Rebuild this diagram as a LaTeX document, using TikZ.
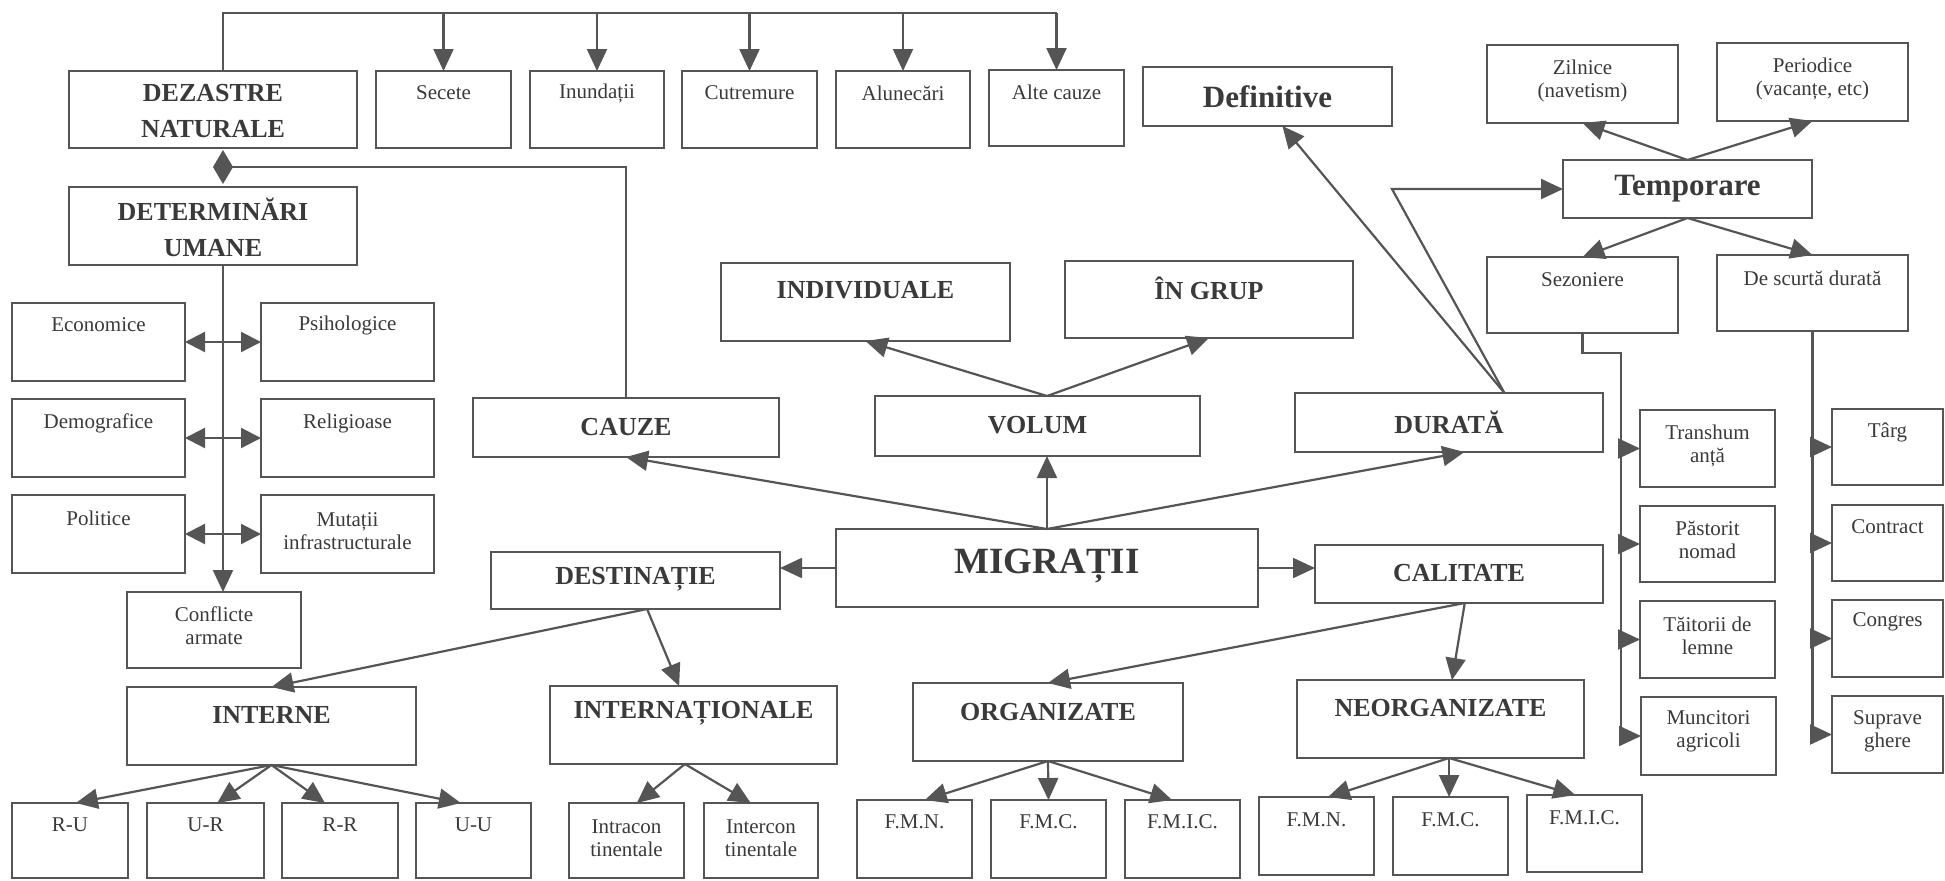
\documentclass[tikz,border=0pt]{standalone}
\usepackage{fontspec}
\setmainfont{Liberation Serif}
\usetikzlibrary{arrows.meta,calc}
\definecolor{ln}{HTML}{555555}
\definecolor{tx}{HTML}{3A3A3A}
\tikzset{
 boxst/.style={draw=ln, line width=1.2pt, inner sep=0pt, outer sep=0pt},
 conn/.style={draw=ln, line width=1.1pt},
 arr/.style={conn, -{Triangle[length=11pt,width=10pt]}},
 arrtwo/.style={conn, {Triangle[length=10pt,width=10pt]}-{Triangle[length=10pt,width=10pt]}},
 rt/.style={text=tx, font=\fontsize{10.5}{11.5}\selectfont, align=center, inner sep=0pt},
 bt/.style={text=tx, font=\fontsize{13}{15}\selectfont\bfseries, align=center, inner sep=0pt},
 big/.style={text=tx, font=\fontsize{15.5}{17}\selectfont\bfseries, align=center, inner sep=0pt},
 huge/.style={text=tx, font=\fontsize{18.5}{20}\selectfont\bfseries, align=center, inner sep=0pt},
}
\newcommand\boxt[8]{%
 \pgfmathsetmacro\bw{(#4-#2)*0.5}%
 \pgfmathsetmacro\bh{(#5-#3)*0.5}%
 \pgfmathsetmacro\bcx{(#2+#4)/2}%
 \pgfmathsetmacro\bcy{(#3+#5)/2}%
 \node[boxst, minimum width=\bw pt, minimum height=\bh pt] (#1) at (\bcx,\bcy) {};%
 \node[#7] (t#1) at (\bcx,#6) {#8};}
\begin{document}
\begin{tikzpicture}[x=0.5pt,y=-0.5pt]
\useasboundingbox[fill=white] (0,0) rectangle (1945,880);
% top row
\boxt{dez}{69}{71}{357}{148}{111}{bt}{DEZASTRE\\[3pt]NATURALE}
\boxt{sec}{376}{71}{511}{148}{93}{rt}{Secete}
\boxt{inu}{530}{71}{664}{148}{93}{rt}{Inundații}
\boxt{cut}{682}{71}{817}{148}{93}{rt}{Cutremure}
\boxt{alu}{836}{71}{970}{148}{93}{rt}{Alunecări}
\boxt{alt}{989}{70}{1124}{146}{92}{rt}{Alte cauze}
\boxt{def}{1143}{67}{1392}{126}{97}{big}{Definitive}
\boxt{zil}{1487}{45}{1678}{123}{81}{rt}{Zilnice\\(navetism)}
\boxt{per}{1717}{43}{1908}{121}{79}{rt}{Periodice\\(vacanțe, etc)}
\boxt{tem}{1563}{160}{1812}{218}{189}{big}{Temporare}
\boxt{sez}{1487}{257}{1678}{333}{280}{rt}{Sezoniere}
\boxt{dsc}{1717}{255}{1908}{331}{278}{rt}{De scurtă durată}
% left column
\boxt{det}{69}{187}{357}{265}{227}{bt}{DETERMINĂRI\\[3pt]UMANE}
\boxt{eco}{12}{303}{185}{381}{325}{rt}{Economice}
\boxt{psi}{261}{303}{434}{381}{325}{rt}{Psihologice}
\boxt{dem}{12}{399}{185}{477}{423}{rt}{Demografice}
\boxt{rel}{261}{399}{434}{477}{423}{rt}{Religioase}
\boxt{pol}{12}{495}{185}{573}{518}{rt}{Politice}
\boxt{mut}{261}{495}{434}{573}{531}{rt}{Mutații\\infrastructurale}
\boxt{con}{127}{592}{301}{668}{626}{rt}{Conflicte\\armate}
% middle
\boxt{cau}{473}{398}{779}{457}{427}{bt}{CAUZE}
\boxt{ind}{721}{263}{1010}{341}{290}{bt}{INDIVIDUALE}
\boxt{ing}{1065}{261}{1353}{338}{288}{bt}{ÎN GRUP}
\boxt{vol}{875}{396}{1200}{456}{425}{bt}{VOLUM}
\boxt{dur}{1295}{393}{1603}{452}{422}{bt}{DURATĂ}
\boxt{mig}{836}{529}{1258}{607}{566}{huge}{MIGRAȚII}
\boxt{des}{491}{552}{780}{609}{579}{bt}{DESTINAȚIE}
\boxt{cal}{1315}{545}{1603}{603}{573}{bt}{CALITATE}
\boxt{int}{127}{687}{416}{765}{715}{bt}{INTERNE}
\boxt{ina}{550}{686}{837}{764}{713}{bt}{INTERNAȚIONALE}
\boxt{org}{913}{683}{1183}{761}{712}{bt}{ORGANIZATE}
\boxt{neo}{1297}{680}{1584}{758}{708}{bt}{NEORGANIZATE}
% bottom row
\boxt{ru}{12}{803}{128}{878}{825}{rt}{R-U}
\boxt{ur}{147}{803}{264}{878}{825}{rt}{U-R}
\boxt{rr}{282}{803}{398}{878}{825}{rt}{R-R}
\boxt{uu}{416}{803}{531}{878}{825}{rt}{U-U}
\boxt{intra}{569}{803}{684}{878}{838}{rt}{Intracon\\tinentale}
\boxt{inter}{704}{803}{818}{878}{838}{rt}{Intercon\\tinentale}
\boxt{fmnA}{857}{800}{972}{878}{822}{rt}{F.M.N.}
\boxt{fmcA}{991}{800}{1106}{878}{822}{rt}{F.M.C.}
\boxt{fmicA}{1125}{800}{1240}{878}{822}{rt}{F.M.I.C.}
\boxt{fmnB}{1259}{797}{1374}{875}{820}{rt}{F.M.N.}
\boxt{fmcB}{1393}{797}{1508}{875}{820}{rt}{F.M.C.}
\boxt{fmicB}{1527}{795}{1642}{872}{818}{rt}{F.M.I.C.}
% right columns
\boxt{tra}{1640}{410}{1775}{487}{446}{rt}{Transhum\\anță}
\boxt{pas}{1640}{506}{1775}{582}{540}{rt}{Păstorit\\nomad}
\boxt{tai}{1640}{601}{1775}{678}{636}{rt}{Tăitorii de\\lemne}
\boxt{mun}{1641}{697}{1776}{775}{731}{rt}{Muncitori\\agricoli}
\boxt{tar}{1832}{409}{1943}{485}{432}{rt}{Târg}
\boxt{ctr}{1832}{505}{1943}{581}{527}{rt}{Contract}
\boxt{cgr}{1832}{600}{1943}{677}{622}{rt}{Congres}
\boxt{sup}{1832}{696}{1943}{773}{731}{rt}{Suprave\\ghere}
% connectors: top
\coordinate (topL) at (223,13);
\coordinate (dia) at (223,167);
\draw[conn] (dez.north -| topL) -- (topL) -- (topL -| alt.north);
\foreach \n in {sec,inu,cut,alu,alt} \draw[arr] (topL -| \n.north) -- (\n.north);
\fill[ln] (dia) ++(0,-17) -- ++(10,17) -- ++(-10,17) -- ++(-10,-17) -- cycle;
\draw[conn] (cau.north) |- (dia);
\draw[arr] (det.south -| dia) -- (con.north -| dia);
\draw[arrtwo] (eco.east) -- (psi.west);
\draw[arrtwo] (dem.east) -- (rel.west);
\draw[arrtwo] (pol.east) -- (mut.west);
% migratii
\draw[arr] (mig.north) -- (cau.south);
\draw[arr] (mig.north) -- (mig.north |- vol.south);
\draw[arr] (mig.north) -- ($(dur.south west)!0.55!(dur.south east)$);
\coordinate (vtop) at (mig.north |- vol.north);
\draw[arr] (vtop) -- (ind.south);
\draw[arr] (vtop) -- (ing.south);
\draw[arr] (mig.west) -- (mig.west -| des.east);
\draw[arr] (mig.east) -- (mig.east -| cal.west);
% durata
\coordinate (dtop) at ($(dur.north west)!0.68!(dur.north east)$);
\draw[arr] (dtop) -- ($(def.south west)!0.56!(def.south east)$);
\draw[arr] (dtop) -- (def.south east |- tem.west) -- (tem.west);
\draw[arr] (tem.north) -- (zil.south);
\draw[arr] (tem.north) -- (per.south);
\draw[arr] (tem.south) -- (sez.north);
\draw[arr] (tem.south) -- (dsc.north);
\coordinate (colA) at (1621,353);
\draw[conn] (sez.south) |- (colA) -- (colA |- mun.west);
\foreach \n in {tra,pas,tai,mun} \draw[arr] (colA |- \n.west) -- (\n.west);
\draw[conn] (dsc.south) -- (dsc.south |- sup.west);
\foreach \n in {tar,ctr,cgr,sup} \draw[arr] (dsc.south |- \n.west) -- (\n.west);
% calitate
\coordinate (cbot) at ($(cal.south west)!0.52!(cal.south east)$);
\draw[arr] (cbot) -- ($(neo.north west)!0.54!(neo.north east)$);
\draw[arr] (cbot) -- (org.north);
% destinatie
\coordinate (dbot) at ($(des.south west)!0.54!(des.south east)$);
\draw[arr] (dbot) -- (int.north);
\draw[arr] (dbot) -- ($(ina.north west)!0.45!(ina.north east)$);
\draw[arr] (int.south) -- ($(ru.north west)!0.55!(ru.north east)$);
\draw[arr] (int.south) -- ($(ur.north west)!0.6!(ur.north east)$);
\draw[arr] (int.south) -- ($(rr.north west)!0.37!(rr.north east)$);
\draw[arr] (int.south) -- ($(uu.north west)!0.39!(uu.north east)$);
\coordinate (inab) at ($(ina.south west)!0.47!(ina.south east)$);
\draw[arr] (inab) -- ($(intra.north west)!0.59!(intra.north east)$);
\draw[arr] (inab) -- ($(inter.north west)!0.41!(inter.north east)$);
\draw[arr] (org.south) -- ($(fmnA.north west)!0.59!(fmnA.north east)$);
\draw[arr] (org.south) -- (fmcA.north);
\draw[arr] (org.south) -- ($(fmicA.north west)!0.41!(fmicA.north east)$);
\coordinate (neob) at ($(neo.south west)!0.53!(neo.south east)$);
\draw[arr] (neob) -- ($(fmnB.north west)!0.6!(fmnB.north east)$);
\draw[arr] (neob) -- (neob |- fmcB.north);
\draw[arr] (neob) -- ($(fmicB.north west)!0.42!(fmicB.north east)$);
\end{tikzpicture}
\end{document}
